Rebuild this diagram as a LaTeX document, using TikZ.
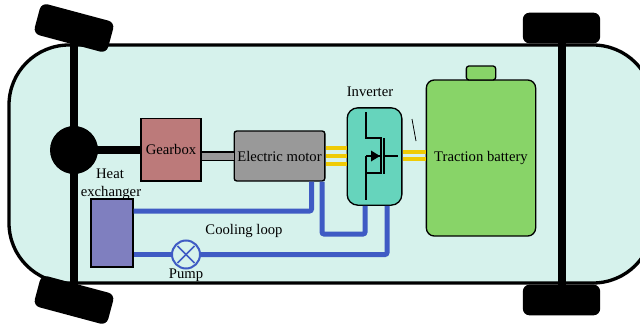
\documentclass[tikz,border=0pt]{standalone}
\usepackage{fontspec}
\setmainfont{Liberation Serif}
\definecolor{bodyfill}{HTML}{D6F2EC}
\definecolor{gearfill}{HTML}{BC7A7A}
\definecolor{motorfill}{HTML}{999999}
\definecolor{invfill}{HTML}{66D4BC}
\definecolor{battfill}{HTML}{88D468}
\definecolor{hxfill}{HTML}{7F7FBF}
\definecolor{loopblue}{HTML}{3F5BC4}
\definecolor{linkyellow}{HTML}{EFCB05}
\tikzset{
	part/.style={draw=black,line width=1pt,inner sep=0pt,font=\fontsize{11pt}{13pt}\selectfont},
	wheel/.style={fill=black,inner sep=0pt,rounded corners=5pt},
	label/.style={inner sep=0pt,font=\fontsize{11pt}{13pt}\selectfont},
	axle/.style={line width=6pt,black},
	loop/.style={line width=3.75pt,loopblue,rounded corners=1.5pt},
	link/.style={line width=2.8pt,linkyellow},
}
\begin{document}
\begin{tikzpicture}[x=0.75pt,y=-0.75pt]
	\useasboundingbox (0,0) rectangle (640,325);
	\clip (0,0) rectangle (640,325);
	% car body
	\draw[line width=2.5pt,fill=bodyfill,rounded corners=45pt] (9,45) rectangle (653,283);
	% wheels and axles
	\node[wheel,minimum width=57pt,minimum height=24pt,rotate=-15] (wheelfl) at (74,28) {};
	\node[wheel,minimum width=57pt,minimum height=24pt,rotate=-15] (wheelrl) at (74,300) {};
	\node[wheel,minimum width=58pt,minimum height=23pt] (wheelfr) at (561.5,28) {};
	\node[wheel,minimum width=58pt,minimum height=23pt] (wheelrr) at (561.5,300) {};
	\draw[axle] (wheelfl.center) -- (wheelrl.center);
	\draw[axle] (wheelfr.center) -- (wheelrr.center);
	\node[circle,fill=black,minimum size=36pt,inner sep=0pt] (diff) at (74,150) {};
	% components
	\node[part,fill=gearfill,minimum width=45pt,minimum height=47pt] (gearbox) at (171,149.5) {Gearbox};
	\node[part,fill=motorfill,rounded corners=2pt,minimum width=68pt,minimum height=37.5pt] (motor) at (279.5,156) {Electric motor};
	\node[part,fill=invfill,rounded corners=8pt,minimum width=41pt,minimum height=73pt] (inverter) at (374.5,156.5) {};
	\node[part,fill=battfill,rounded corners=6pt,minimum width=82pt,minimum height=117pt] (battery) at (481,158) {Traction battery};
	\node[part,fill=battfill,rounded corners=2pt,minimum width=22pt,minimum height=10.5pt] (tab) at (481,73) {};
	\node[part,fill=hxfill,minimum width=31.5pt,minimum height=51pt] (hx) at (112,233) {};
	\node[part,draw=loopblue,fill=bodyfill,circle,line width=1.5pt,minimum size=21pt] (pump) at (186,254.5) {};
	\draw[line width=1.2pt,loopblue,shorten <=2.2pt,shorten >=2.2pt] (pump.north west) -- (pump.south east);
	\draw[line width=1.2pt,loopblue,shorten <=2.2pt,shorten >=2.2pt] (pump.north east) -- (pump.south west);
	% shafts
	\draw[line width=6pt,black] (diff.center) -- (gearbox.west |- diff);
	\draw[line width=7.5pt,black] (gearbox.east |- 0,156) -- (motor.west |- 0,156);
	\draw[line width=5.5pt,motorfill] (gearbox.east |- 0,156.4) -- (motor.west |- 0,156.4);
	% power links
	\foreach \ypos in {148,156,164} {
		\draw[link] (motor.east |- 0,\ypos) -- (inverter.west |- 0,\ypos);
	}
	\foreach \ypos in {152,159} {
		\draw[link] (inverter.east |- 0,\ypos) -- (battery.west |- 0,\ypos);
	}
	% cooling loop
	\draw[loop] (hx.east |- 0,211) -| (motor.south -| 311.5,0);
	\draw[loop] (motor.south -| 322,0) |- (365,234) -- (inverter.south -| 365,0);
	\draw[loop] (hx.east |- pump) -- (pump.west);
	\draw[loop] (pump.east) -| (inverter.south -| 387,0);
	% transistor symbol
	\coordinate (drain) at (366,112);
	\coordinate (source) at (366,200);
	\coordinate (gate) at (398,156);
	\draw[line width=1pt] (drain) |- (381,138) -- (381,173) -| (source);
	\draw[line width=1pt] (366,156) -- (381,156);
	\draw[line width=1pt] (366,156) -- (366,173);
	\draw[line width=1pt] (384,138) -- (384,174);
	\draw[line width=1pt] (384,156) -- (gate);
	\fill (371,150.5) -- (380,156) -- (371,161.5) -- cycle;
	\draw[line width=0.6pt] (412,119) -- (416,141);
	% labels
	\node[label] (invlabel) at (370,92) {Inverter};
	\node[label] (heatlabel) at (110,174) {Heat};
	\node[label] (exlabel) at (111,193) {exchanger};
	\node[label] (looplabel) at (244,231) {Cooling loop};
	\node[label] (pumplabel) at (186,275) {Pump};
\end{tikzpicture}
\end{document}
